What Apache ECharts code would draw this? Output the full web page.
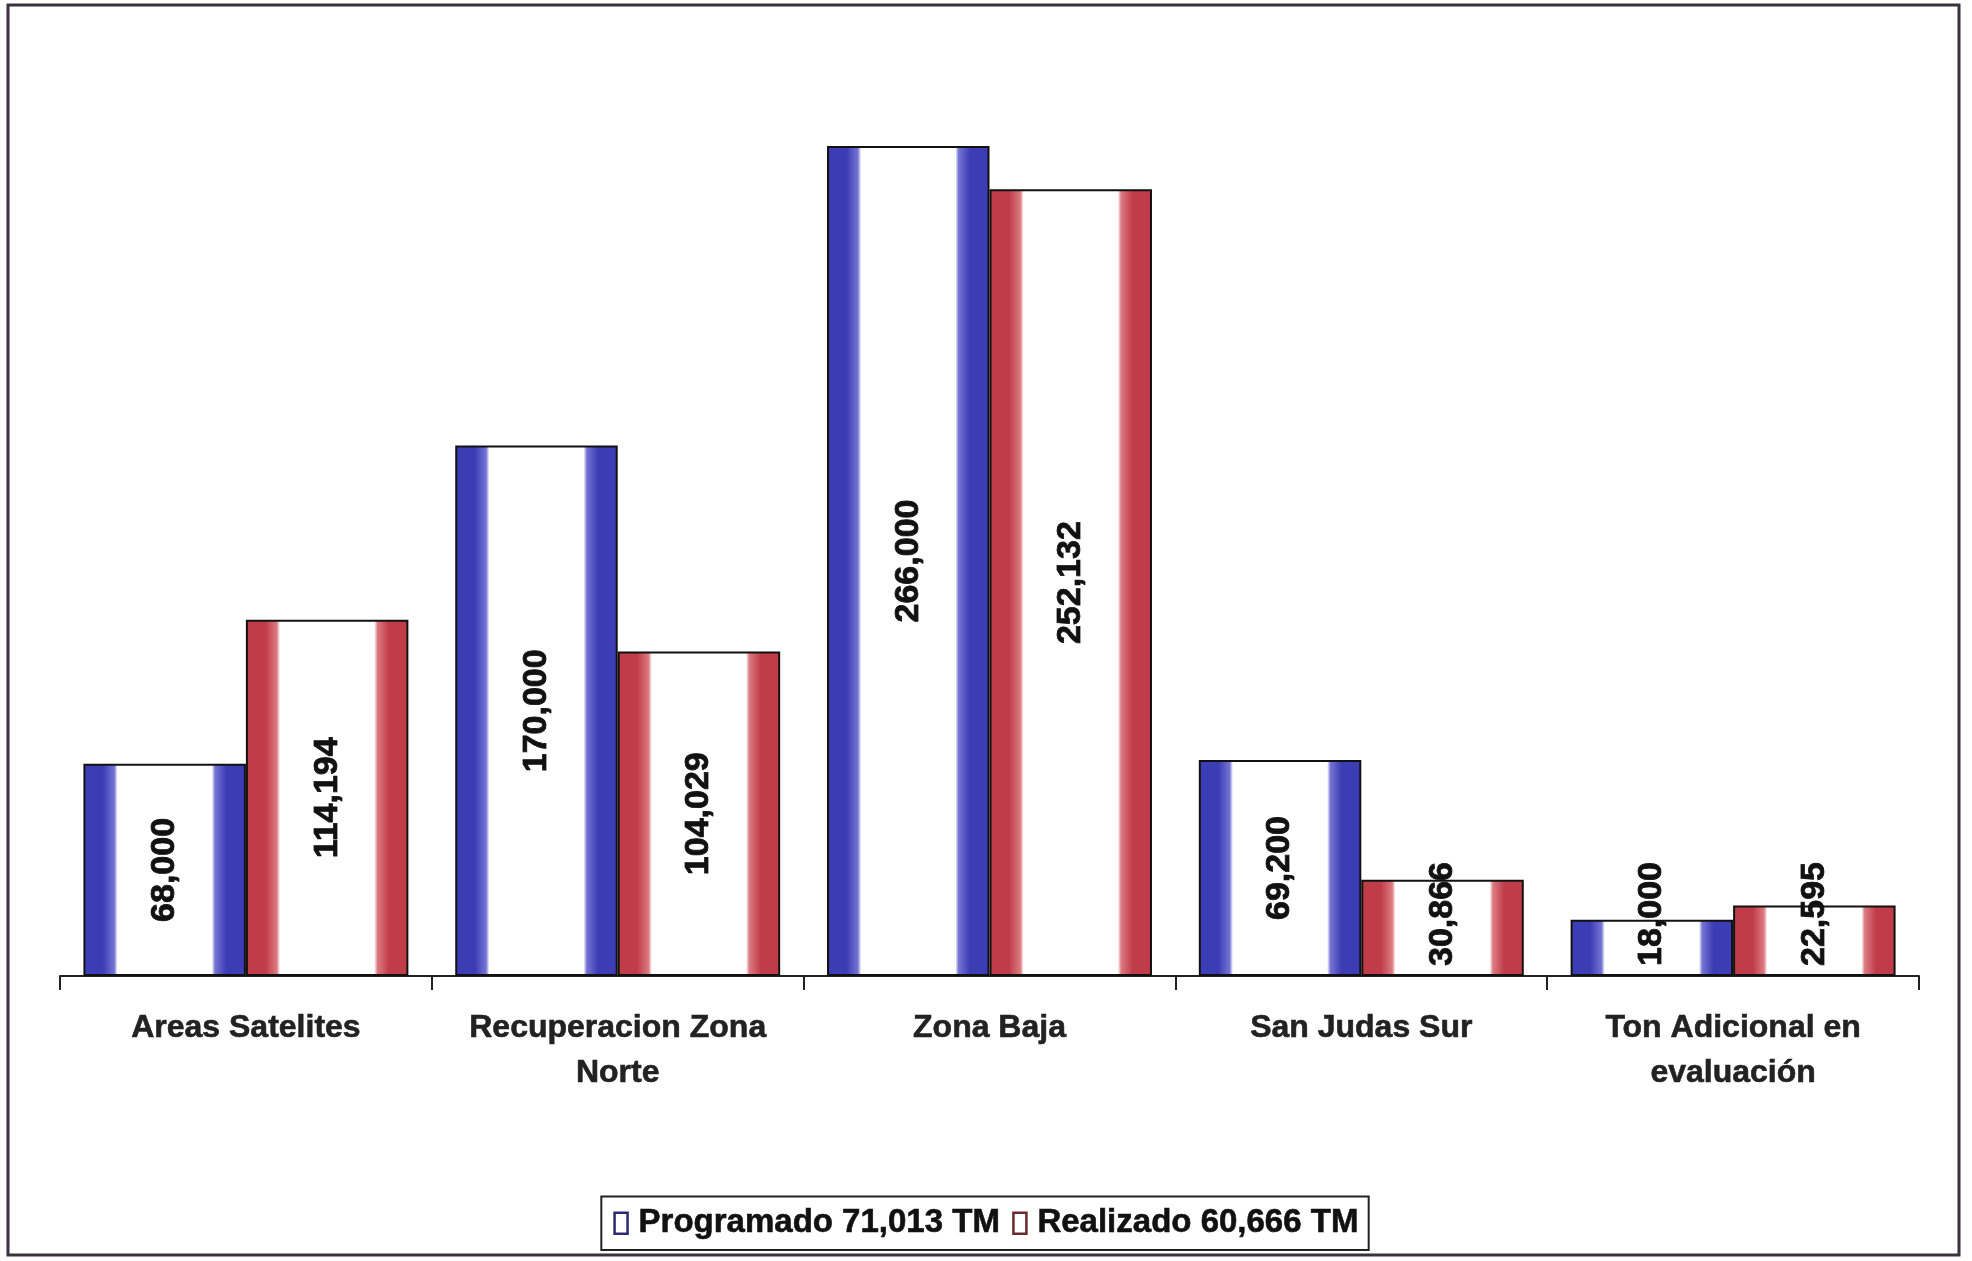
<!DOCTYPE html>
<html>
<head>
<meta charset="utf-8">
<script src="https://cdn.jsdelivr.net/npm/echarts@6/dist/echarts.min.js"></script>
<style>html,body{margin:0;padding:0;background:#fff}#c{width:1972px;height:1261px}</style>
</head>
<body>
<div id="c"></div>
<script>
const categories = ['Areas Satelites', 'Recuperacion Zona\nNorte', 'Zona Baja', 'San Judas Sur', 'Ton Adicional en\nevaluación'];
const programado = [68000, 170000, 266000, 69200, 18000];
const realizado = [114194, 104029, 252132, 30866, 22595];
const seriesNames = ['Programado 71,013 TM', 'Realizado 60,666 TM'];

const chart = echarts.init(document.getElementById('c'));

function grad(dark, light) {
  return new echarts.graphic.LinearGradient(0, 0, 1, 0, [
    {offset: 0, color: dark},
    {offset: 0.12, color: dark},
    {offset: 0.19, color: light},
    {offset: 0.21, color: '#ffffff'},
    {offset: 0.79, color: '#ffffff'},
    {offset: 0.81, color: light},
    {offset: 0.88, color: dark},
    {offset: 1, color: dark}
  ]);
}
const fmt = v => v.toLocaleString('en-US');
function items(arr) {
  return arr.map(v => {
    const small = v < 40000;
    return {
      value: v,
      label: small ? {position: 'insideBottom', distance: 10, align: 'left', verticalAlign: 'middle'}
                   : {position: 'inside', align: 'center', verticalAlign: 'middle'}
    };
  });
}
const FONT = 'Liberation Sans, Arial, sans-serif';
const labelBase = {
  show: true, rotate: 90, color: '#111', fontSize: 34, fontWeight: 'bold',
  fontFamily: FONT, textBorderColor: '#111', textBorderWidth: 0.8,
  formatter: p => fmt(p.value)
};

chart.setOption({
  animation: false,
  backgroundColor: '#fff',
  graphic: [{
    type: 'rect', shape: {x: 8, y: 5, width: 1951, height: 1250},
    style: {fill: 'none', stroke: '#3a3040', lineWidth: 3}, z: -1
  }],
  grid: {left: 60, right: 53, top: 146, bottom: 285, containLabel: false},
  legend: {
    bottom: 11, left: 'center',
    data: [
      {name: seriesNames[0], itemStyle: {color: '#fff', borderColor: '#2a2a70', borderWidth: 2.5}},
      {name: seriesNames[1], itemStyle: {color: '#fff', borderColor: '#6a2a30', borderWidth: 2.5}}
    ],
    itemWidth: 13, itemHeight: 21, itemGap: 12,
    borderColor: '#222', borderWidth: 2, padding: [10, 10, 10, 12],
    textStyle: {fontSize: 33, fontWeight: 'bold', color: '#111', fontFamily: FONT,
      padding: [0, 0, 0, 6], textBorderColor: '#111', textBorderWidth: 0.6},
    icon: 'rect'
  },
  xAxis: {
    type: 'category', data: categories,
    axisLine: {lineStyle: {color: '#222', width: 2}},
    axisTick: {show: true, length: 14, lineStyle: {color: '#222', width: 2}, alignWithLabel: false},
    axisLabel: {
      interval: 0, margin: 30, fontSize: 32, fontWeight: 'bold', color: '#222', lineHeight: 45,
      fontFamily: FONT, textBorderColor: '#222', textBorderWidth: 0.6
    }
  },
  yAxis: {type: 'value', min: 0, max: 266000, show: false, splitLine: {show: false}},
  series: [
    {
      name: seriesNames[0], type: 'bar', data: items(programado),
      barGap: '0%', barCategoryGap: '12.6%',
      itemStyle: {color: grad('#3c3cb4', '#7474d4'), borderColor: '#111', borderWidth: 2},
      label: labelBase
    },
    {
      name: seriesNames[1], type: 'bar', data: items(realizado),
      barGap: '0%', barCategoryGap: '12.6%',
      itemStyle: {color: grad('#c03c48', '#dc7a82'), borderColor: '#111', borderWidth: 2},
      label: labelBase
    }
  ]
});
</script>
</body>
</html>
